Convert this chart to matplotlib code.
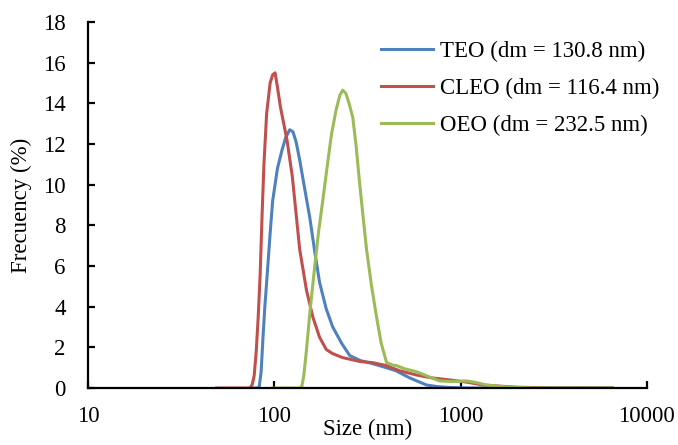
import matplotlib
matplotlib.use("Agg")
import matplotlib.pyplot as plt
import matplotlib.ticker as tkr

# size (nm) and frequency (%)
teoSize = [78, 81, 83, 85, 87, 89, 91, 95, 98, 104, 110, 115, 121, 126, 131, 137, 145, 155, 165, 175, 190, 206, 230, 254, 290, 337, 400, 450, 533, 600, 657, 750, 873, 1100, 2000, 4000, 6530]
teoFreq = [0, 0, 0.05, 0.8, 2.5, 4.0, 5.2, 7.6, 9.2, 10.8, 11.7, 12.3, 12.7, 12.6, 12.1, 11.2, 9.9, 8.4, 6.7, 5.2, 3.9, 3.0, 2.2, 1.6, 1.35, 1.2, 1.0, 0.85, 0.5, 0.3, 0.15, 0.07, 0.03, 0, 0, 0, 0]

cleoSize = [49, 60, 74, 76, 78, 80, 82, 84, 86, 88, 91, 95, 98, 101, 104, 108, 113, 117, 125, 137, 149, 161, 175, 190, 205, 232, 290, 337, 400, 471, 581, 700, 873, 1100, 1312, 2000, 3000, 6530]
cleoFreq = [0, 0, 0, 0.15, 0.6, 1.8, 3.5, 5.6, 8.5, 11.0, 13.5, 15.0, 15.4, 15.5, 14.8, 13.8, 12.9, 12.2, 10.4, 6.8, 4.8, 3.5, 2.5, 1.9, 1.7, 1.5, 1.3, 1.25, 1.1, 0.85, 0.64, 0.5, 0.4, 0.28, 0.15, 0.04, 0.01, 0]

oeoSize = [98, 120, 140, 144, 149, 156, 165, 173, 182, 193, 203, 215, 225, 233, 242, 252, 264, 275, 287, 300, 313, 333, 354, 375, 401, 432, 454, 500, 581, 680, 771, 900, 1077, 1200, 1378, 1765, 2500, 4000, 6530]
oeoFreq = [0, 0, 0, 0.6, 1.9, 3.9, 6.0, 7.7, 9.2, 11.0, 12.5, 13.7, 14.4, 14.65, 14.5, 14.0, 13.3, 11.9, 10.1, 8.4, 6.8, 5.0, 3.5, 2.2, 1.25, 1.13, 1.1, 0.95, 0.8, 0.55, 0.35, 0.32, 0.35, 0.28, 0.15, 0.05, 0, 0, 0]

labels = ["TEO (dm = 130.8 nm)", "CLEO (dm = 116.4 nm)", "OEO (dm = 232.5 nm)"]
colors = ["#4F81BD", "#C0504D", "#9BBB59"]

plt.rcParams['font.family'] = ['Liberation Serif', 'DejaVu Serif']
plt.rcParams['font.size'] = 16.5

fig = plt.figure(figsize=(6.78, 4.45), dpi=100)
ax = fig.add_axes([0.1298, 0.128, 0.8242, 0.8226])

ax.plot(teoSize, teoFreq, color=colors[0], lw=2.2, label=labels[0])
ax.plot(cleoSize, cleoFreq, color=colors[1], lw=2.2, label=labels[1])
ax.plot(oeoSize, oeoFreq, color=colors[2], lw=2.2, label=labels[2])

ax.set_xscale('log')
ax.set_xlim(10, 10000)
ax.set_ylim(0, 18)
ax.set_yticks(range(0, 19, 2))
ax.xaxis.set_major_formatter(tkr.FuncFormatter(lambda v, p: f"{v:.0f}"))
ax.xaxis.set_minor_locator(tkr.NullLocator())

for side in ['top', 'right']:
    ax.spines[side].set_visible(False)
for side in ['left', 'bottom']:
    ax.spines[side].set_linewidth(1.6)
ax.tick_params(direction='in', length=5, width=1.6)
ax.tick_params(axis='x', pad=13)
ax.tick_params(axis='y', pad=16)

ax.set_xlabel("Size (nm)", labelpad=-6)
ax.set_ylabel("Frecuency (%)", labelpad=8)

ax.legend(loc='upper left', bbox_to_anchor=(0.487, 1.006), frameon=False,
          handlelength=2.3, labelspacing=0.7, handletextpad=0.3)

fig.savefig("out.png", dpi=100)
